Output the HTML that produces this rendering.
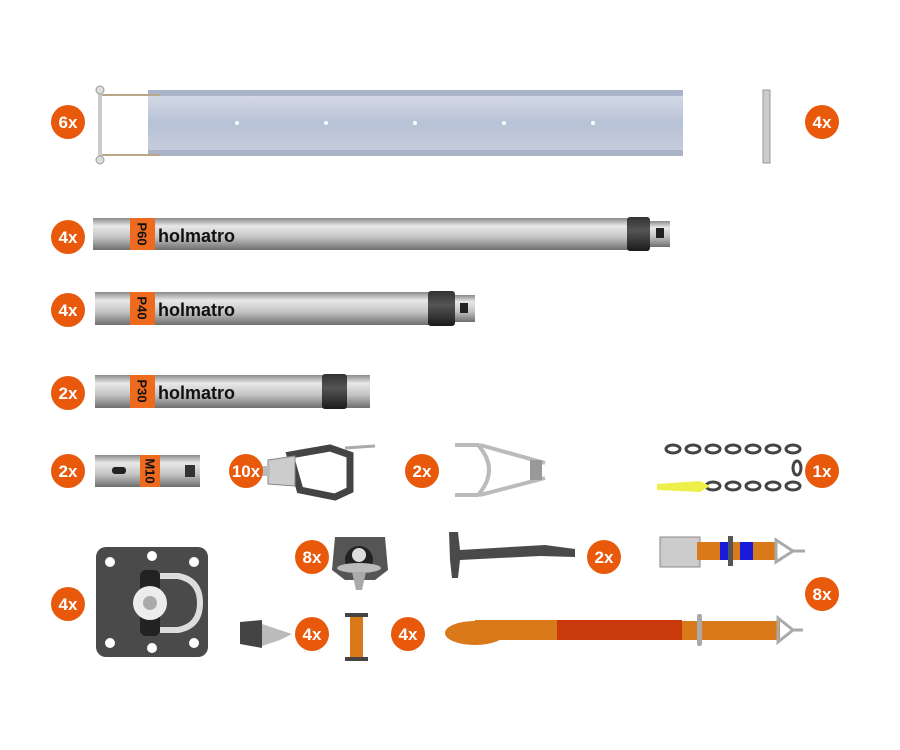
<!DOCTYPE html>
<html><head><meta charset="utf-8"><style>
html,body{margin:0;padding:0;background:#fff;width:900px;height:750px;overflow:hidden}
svg{display:block}
.b text{font-family:"Liberation Sans",sans-serif;font-weight:bold;fill:#fff;font-size:17px;text-anchor:middle}
.lbl{font-family:"Liberation Sans",sans-serif;font-weight:bold;fill:#111;font-size:18px}
.pl{font-family:"Liberation Sans",sans-serif;font-weight:bold;fill:#111;font-size:13px;text-anchor:middle;dominant-baseline:central}
</style></head><body>
<svg width="900" height="750" viewBox="0 0 900 750">
<defs>
<linearGradient id="rail" x1="0" y1="0" x2="0" y2="1"><stop offset="0" stop-color="#d8dde8"/><stop offset=".5" stop-color="#b8c2d6"/><stop offset="1" stop-color="#c8cfdd"/></linearGradient>
<linearGradient id="tube" x1="0" y1="0" x2="0" y2="1"><stop offset="0" stop-color="#8a8a8a"/><stop offset=".25" stop-color="#e8e8e8"/><stop offset=".6" stop-color="#c4c4c4"/><stop offset="1" stop-color="#6e6e6e"/></linearGradient>
<linearGradient id="blk" x1="0" y1="0" x2="0" y2="1"><stop offset="0" stop-color="#333"/><stop offset=".4" stop-color="#555"/><stop offset="1" stop-color="#1a1a1a"/></linearGradient>
</defs>
<rect x="148" y="90" width="535" height="66" fill="url(#rail)"/>
<rect x="148" y="90" width="535" height="6" fill="#aab4c8"/>
<rect x="148" y="150" width="535" height="6" fill="#aab4c8"/>
<g fill="#fff"><circle cx="237" cy="123" r="2"/><circle cx="326" cy="123" r="2"/><circle cx="415" cy="123" r="2"/><circle cx="504" cy="123" r="2"/><circle cx="593" cy="123" r="2"/></g>
<g stroke="#b8a888" stroke-width="2" fill="none"><line x1="100" y1="95" x2="160" y2="95"/><line x1="100" y1="155" x2="160" y2="155"/><line x1="100" y1="90" x2="100" y2="160" stroke="#ccc" stroke-width="4"/></g>
<circle cx="100" cy="90" r="4" fill="#ddd" stroke="#999"/><circle cx="100" cy="160" r="4" fill="#ddd" stroke="#999"/>
<rect x="763" y="90" width="7" height="73" fill="#ccc" stroke="#999"/>
<g>
<rect x="93" y="218" width="540" height="32" fill="url(#tube)"/>
<rect x="627" y="217" width="23" height="34" rx="3" fill="url(#blk)"/>
<rect x="650" y="221" width="20" height="26" fill="url(#tube)"/><rect x="656" y="228" width="8" height="10" fill="#222"/>
<rect x="130" y="218" width="25" height="32" fill="#ee6a1f"/><text x="142" y="234" class="pl" transform="rotate(90 142 234)">P60</text>
<text x="158" y="242" class="lbl">holmatro</text>
</g>
<g>
<rect x="95" y="292" width="340" height="33" fill="url(#tube)"/>
<rect x="428" y="291" width="27" height="35" rx="3" fill="url(#blk)"/>
<rect x="455" y="295" width="20" height="27" fill="url(#tube)"/><rect x="460" y="303" width="8" height="10" fill="#222"/>
<rect x="130" y="292" width="25" height="33" fill="#ee6a1f"/><text x="142" y="308" class="pl" transform="rotate(90 142 308)">P40</text>
<text x="158" y="316" class="lbl">holmatro</text>
</g>
<g>
<rect x="95" y="375" width="275" height="33" fill="url(#tube)"/>
<rect x="322" y="374" width="25" height="35" rx="3" fill="url(#blk)"/>
<rect x="130" y="375" width="25" height="33" fill="#ee6a1f"/><text x="142" y="391" class="pl" transform="rotate(90 142 391)">P30</text>
<text x="158" y="399" class="lbl">holmatro</text>
</g>
<g>
<rect x="95" y="455" width="105" height="32" fill="url(#tube)"/>
<rect x="140" y="455" width="20" height="32" fill="#ee6a1f"/><text x="150" y="471" class="pl" font-size="11" transform="rotate(90 150 471)">M10</text>
<rect x="112" y="467" width="14" height="7" rx="3" fill="#222"/>
<rect x="185" y="465" width="10" height="12" fill="#333"/>
</g>
<g><path d="M290 455 L330 448 L350 455 L350 490 L335 497 L300 490 Z" fill="none" stroke="#444" stroke-width="7"/>
<path d="M268 460 L295 456 L295 486 L268 484 Z" fill="#ccc" stroke="#888"/><rect x="262" y="466" width="8" height="10" fill="#bbb"/>
<line x1="345" y1="448" x2="375" y2="446" stroke="#aaa" stroke-width="3"/></g>
<g fill="none" stroke="#bbb" stroke-width="4"><path d="M455 445 L478 445 Q500 470 478 495 L455 495"/><path d="M480 445 L545 463 M480 495 L545 478"/></g>
<rect x="530" y="460" width="12" height="20" fill="#999"/>
<g fill="none" stroke="#444" stroke-width="3">
<ellipse cx="673" cy="449" rx="7" ry="4"/><ellipse cx="693" cy="449" rx="7" ry="4"/><ellipse cx="713" cy="449" rx="7" ry="4"/><ellipse cx="733" cy="449" rx="7" ry="4"/><ellipse cx="753" cy="449" rx="7" ry="4"/><ellipse cx="773" cy="449" rx="7" ry="4"/><ellipse cx="793" cy="449" rx="7" ry="4"/><ellipse cx="797" cy="468" rx="4" ry="7"/><ellipse cx="713" cy="486" rx="7" ry="4"/><ellipse cx="733" cy="486" rx="7" ry="4"/><ellipse cx="753" cy="486" rx="7" ry="4"/><ellipse cx="773" cy="486" rx="7" ry="4"/><ellipse cx="793" cy="486" rx="7" ry="4"/></g>
<path d="M657 484 L700 481 L710 486 L700 492 L657 490 Z" fill="#eef04a"/>
<rect x="96" y="547" width="112" height="110" rx="10" fill="#4a4a4a"/>
<g fill="#fff"><circle cx="110" cy="562" r="5"/><circle cx="194" cy="562" r="5"/><circle cx="110" cy="643" r="5"/><circle cx="194" cy="643" r="5"/><circle cx="152" cy="556" r="5"/><circle cx="152" cy="648" r="5"/></g>
<path d="M160 576 L178 576 Q200 580 200 603 Q200 626 178 630 L160 630" fill="none" stroke="#ddd" stroke-width="6"/>
<rect x="140" y="570" width="20" height="66" rx="6" fill="#222"/>
<circle cx="150" cy="603" r="17" fill="#ececec"/><circle cx="150" cy="603" r="7" fill="#aaa"/>
<path d="M335 537 L385 537 L388 570 L375 580 L345 580 L332 570 Z" fill="#555"/>
<circle cx="359" cy="560" r="14" fill="#222"/><ellipse cx="359" cy="568" rx="22" ry="5" fill="#bbb"/><path d="M352 572 L366 572 L362 590 L356 590 Z" fill="#aaa"/><circle cx="359" cy="555" r="7" fill="#ddd"/>
<path d="M240 622 L262 620 L262 648 L240 644 Z" fill="#444"/><path d="M262 624 L280 630 L292 634 L280 640 L262 646 Z" fill="#bbb"/>
<rect x="350" y="615" width="13" height="44" fill="#d9791a"/><path d="M345 615 H368 M345 659 H368" stroke="#444" stroke-width="4"/>
<path d="M449 532 L458 532 L460 550 L545 545 L575 549 L575 557 L540 556 L460 560 L458 578 L452 578 L450 560 L449 532 Z" fill="#4a4a4a"/>
<rect x="660" y="537" width="40" height="30" fill="#ccc" stroke="#888"/>
<rect x="697" y="542" width="80" height="18" fill="#d9791a"/><rect x="720" y="542" width="33" height="18" fill="#1a1adb"/><rect x="733" y="542" width="7" height="18" fill="#d9791a"/>
<rect x="728" y="536" width="5" height="30" fill="#555"/>
<path d="M776 540 L793 551 L776 562 Z M793 551 H805" fill="none" stroke="#aaa" stroke-width="3"/>
<ellipse cx="475" cy="633" rx="30" ry="12" fill="#d9791a"/><rect x="475" y="620" width="82" height="20" fill="#d9791a"/>
<rect x="557" y="620" width="125" height="20" fill="#c9390c"/><rect x="682" y="621" width="98" height="19" fill="#d9791a"/>
<rect x="697" y="614" width="5" height="32" rx="2" fill="#aaa"/>
<path d="M778 618 L793 630 L778 642 Z M793 630 H803" fill="none" stroke="#aaa" stroke-width="3"/>
<g class="b" fill="#e8590c">
<circle cx="68" cy="122" r="17"/><text x="68" y="128">6x</text>
<circle cx="822" cy="122" r="17"/><text x="822" y="128">4x</text>
<circle cx="68" cy="237" r="17"/><text x="68" y="243">4x</text>
<circle cx="68" cy="310" r="17"/><text x="68" y="316">4x</text>
<circle cx="68" cy="393" r="17"/><text x="68" y="399">2x</text>
<circle cx="68" cy="471" r="17"/><text x="68" y="477">2x</text>
<circle cx="246" cy="471" r="17"/><text x="246" y="477">10x</text>
<circle cx="422" cy="471" r="17"/><text x="422" y="477">2x</text>
<circle cx="822" cy="471" r="17"/><text x="822" y="477">1x</text>
<circle cx="68" cy="604" r="17"/><text x="68" y="610">4x</text>
<circle cx="312" cy="557" r="17"/><text x="312" y="563">8x</text>
<circle cx="604" cy="557" r="17"/><text x="604" y="563">2x</text>
<circle cx="822" cy="594" r="17"/><text x="822" y="600">8x</text>
<circle cx="312" cy="634" r="17"/><text x="312" y="640">4x</text>
<circle cx="408" cy="634" r="17"/><text x="408" y="640">4x</text>
</g>
</svg>
</body></html>
